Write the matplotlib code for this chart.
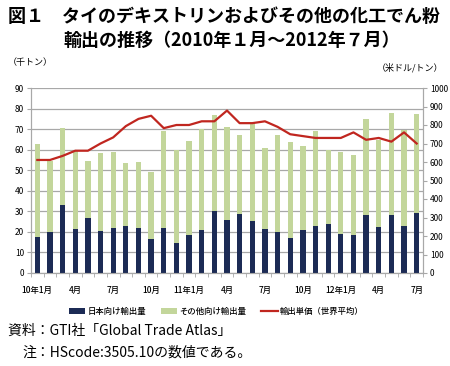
import numpy as np
import matplotlib
matplotlib.use("Agg")
import matplotlib.pyplot as plt

plt.rcParams['font.family'] = ['Noto Sans CJK JP', 'DejaVu Sans']

# 2010年1月〜2012年7月 (31か月)
japan = [17.5, 20, 33, 21.5, 27, 20.5, 22, 23, 22, 16.5, 22, 14.5, 18.5, 21, 30, 26,
         28.8, 25.2, 21.6, 20, 17.1, 20.7, 23, 23.9, 18.9, 18.5, 28.4, 22.5, 28.4, 23, 29.3]
total = [63, 54.5, 70.5, 59.5, 54.5, 58.5, 59, 53.5, 54, 49, 69, 60, 64, 70, 77, 71,
         67, 73, 60.7, 67, 63.9, 61.7, 69.3, 59.9, 59, 57.6, 74.7, 64.8, 77.9, 69.8, 77.4]
others = [t - j for t, j in zip(total, japan)]
price = [611, 611, 633, 661, 661, 700, 733, 794, 833, 850, 783, 800, 800, 820, 820, 878,
         810, 810, 820, 790, 750, 740, 730, 730, 730, 760, 720, 730, 710, 760, 700]
tick_labels = ['10年1月', '4月', '7月', '10月', '11年1月', '4月', '7月', '10月',
               '12年1月', '4月', '7月']

navy = '#1c2b55'
green = '#c3d69b'
red = '#c0261f'

fig = plt.figure(figsize=(4.5, 3.66), dpi=100)
ax = fig.add_axes([31/450, 93/366, 392/450, 185/366])
x = np.arange(len(japan))

ax.bar(x, japan, width=0.42, color=navy, label='日本向け輸出量', zorder=3)
ax.bar(x, others, width=0.42, bottom=japan, color=green, label='その他向け輸出量', zorder=3)
ax.set_ylim(0, 90)
ax.set_yticks(np.arange(0, 91, 10))
ax.set_xlim(-0.5, len(japan) - 0.5)
ax.grid(axis='y', color='#a8a8a8', lw=0.9, zorder=0)
ax.set_xticks(np.arange(0, len(japan), 3))
ax.set_xticklabels(tick_labels, fontweight='medium')
ax.set_xticks(np.arange(-0.5, len(japan), 1), minor=True)
ax.tick_params(axis='x', which='major', length=0, pad=9, labelsize=6)
ax.tick_params(axis='x', which='minor', length=3, color='#a8a8a8')
ax.tick_params(axis='y', length=3, color='#a8a8a8', labelsize=6, pad=2)
for s in ['left', 'bottom', 'right', 'top']:
    ax.spines[s].set_color('#a8a8a8')
ax.spines['top'].set_visible(False)

ax2 = ax.twinx()
ax2.plot(x, price, color=red, lw=1.6, label='輸出単価（世界平均）', zorder=4)
ax2.set_ylim(0, 1000)
ax2.set_yticks(np.arange(0, 1001, 100))
ax2.tick_params(axis='y', length=3, color='#a8a8a8', labelsize=6, pad=2)
for s in ['left', 'bottom', 'right', 'top']:
    ax2.spines[s].set_color('#a8a8a8')
ax2.spines['top'].set_visible(False)

h1, l1 = ax.get_legend_handles_labels()
h2, l2 = ax2.get_legend_handles_labels()
fig.legend(h1 + h2, l1 + l2, loc='center', bbox_to_anchor=(0.48, 1 - 311/366), ncol=3,
           frameon=False, prop={'size': 6, 'weight': 'medium'}, handlelength=2.0,
           handleheight=0.7, columnspacing=1.8, handletextpad=0.2)

fig.text(0.018, 1 - 16/366, '図１　タイのデキストリンおよびその他の化工でん粉',
         fontsize=13, fontweight='bold', va='center')
fig.text(0.14, 1 - 40/366, '輸出の推移（2010年１月～2012年７月）',
         fontsize=13, fontweight='bold', va='center')
fig.text(0.018, 1 - 63/366, '（千トン）', fontsize=6.5, va='center')
fig.text(0.985, 1 - 68/366, '（米ドル/トン）', fontsize=6.5, va='center', ha='right')
fig.text(0.018, 1 - 331/366, '資料：GTI社「Global Trade Atlas」', fontsize=10, va='center')
fig.text(0.05, 1 - 353/366, '注：HScode:3505.10の数値である。', fontsize=10, va='center')

fig.savefig('out.png', dpi=100)
